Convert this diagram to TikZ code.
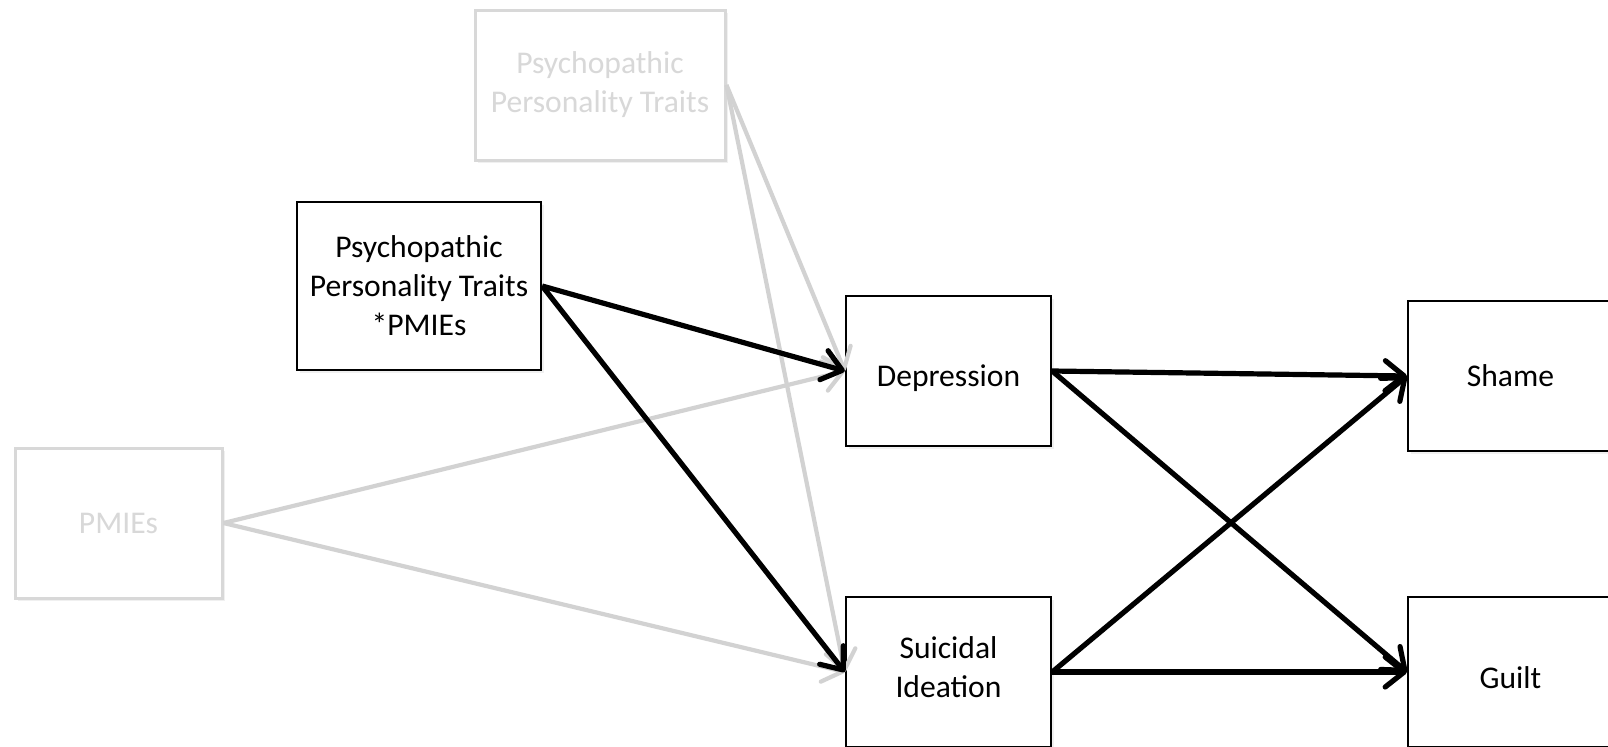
\documentclass[tikz,border=0pt]{standalone}
\usepackage{fontspec}
\setmainfont{Carlito}
\usetikzlibrary{arrows.meta, shadows}
\definecolor{fadegray}{RGB}{216,216,216}
\definecolor{fadeline}{RGB}{210,210,210}

\begin{document}
\begin{tikzpicture}[
  x=0.5pt, y=-0.5pt,
  font=\fontsize{15.8pt}{19.5pt}\selectfont,
  box/.style={
    draw, line width=1.2pt, align=center, fill=white,
    minimum width=102.5pt, minimum height=75pt,
    inner sep=2pt,
    drop shadow={opacity=0.12, shadow xshift=1.5pt, shadow yshift=-1.5pt}
  },
  faded/.style={box, draw=fadegray, line width=1.5pt, text=fadegray},
  link/.style={line width=2.6pt, -{Straight Barb[round, length=9.5pt, width=15pt]}},
  fadelink/.style={link, line width=2.1pt, draw=fadeline}
]
\useasboundingbox (0,0) rectangle (1608,746);
\clip (0,0) rectangle (1608,746);

% predictors
\node[faded, minimum width=125pt] (ppt) at (600,85) {Psychopathic\\Personality Traits};
\node[box, minimum width=122pt, minimum height=84pt] (inter) at (419,286) {Psychopathic\\Personality Traits\\*PMIEs};
\node[faded, minimum width=103.5pt] (pmie) at (118.5,523) {PMIEs};

% mediators
\node[box, text height=15pt, text depth=0pt] (dep) at (948.5,371) {Depression};
\node[box] (sui) at (948.5,672) {Suicidal\\Ideation\rule[-4.6pt]{0pt}{4.6pt}};

% outcomes
\node[box] (shame) at (1510.5,376) {Shame};
\node[box, text height=16pt, text depth=0pt] (guilt) at (1510.5,672) {Guilt};

% faded paths
\draw[fadelink] (ppt.east) -- (dep.west);
\draw[fadelink] (ppt.east) -- (sui.west);
\draw[fadelink] (pmie.east) -- (dep.west);
\draw[fadelink] (pmie.east) -- (sui.west);

% paths
\draw[link] (inter.east) -- (dep.west);
\draw[link] (inter.east) -- (sui.west);
\draw[link] (dep.east) -- (shame.west);
\draw[link] (dep.east) -- (guilt.west);
\draw[link] (sui.east) -- (shame.west);
\draw[link] (sui.east) -- (guilt.west);
\end{tikzpicture}
\end{document}
